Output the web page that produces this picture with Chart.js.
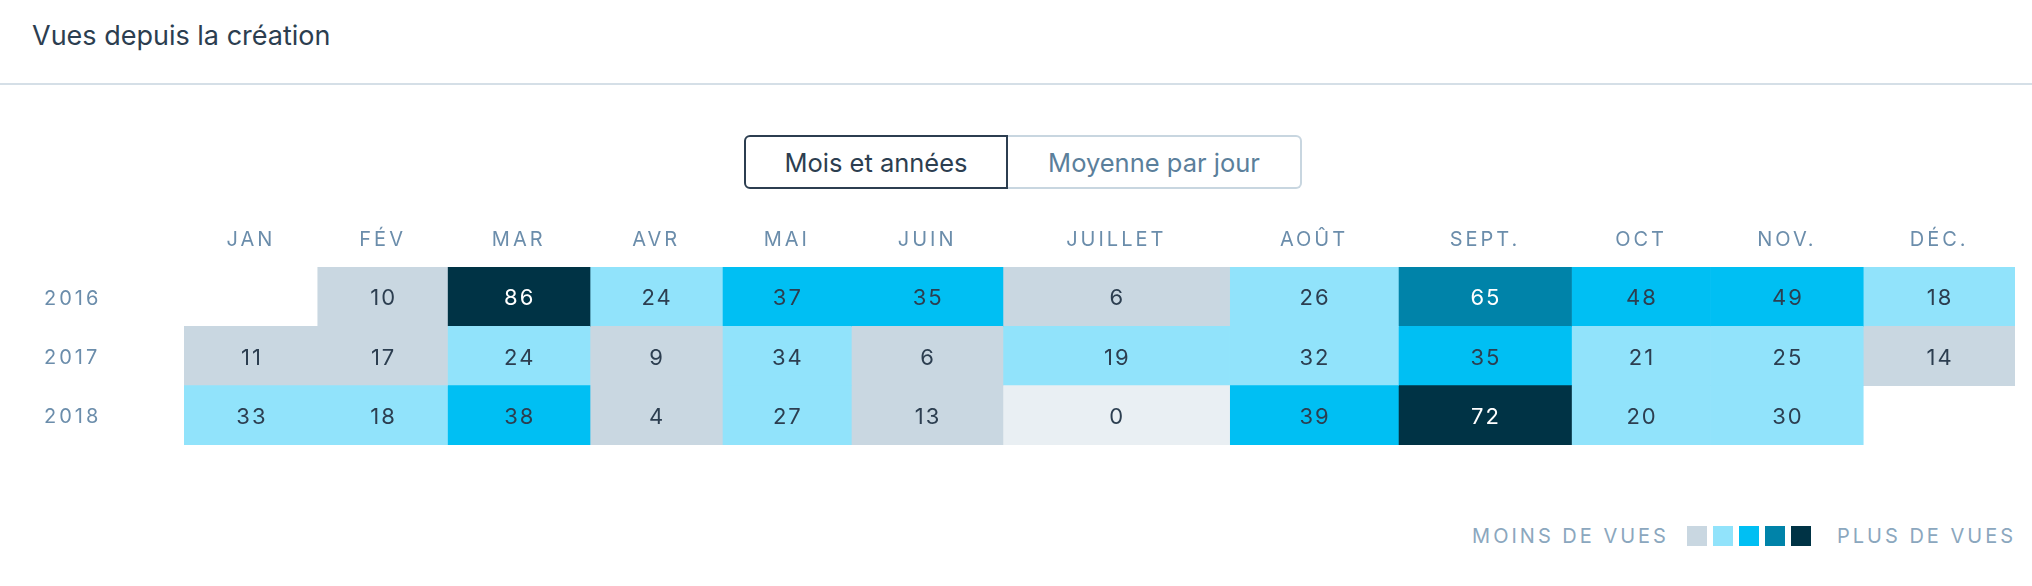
<!DOCTYPE html>
<html lang="fr">
<head>
<meta charset="utf-8">
<title>Vues depuis la création</title>
<script src="https://cdn.jsdelivr.net/npm/chart.js@4"></script>
<style>
    html, body { margin: 0; padding: 0; background: #fff; }
    body { width: 2032px; height: 586px; position: relative; overflow: hidden; font-family: Inter, "Noto Sans", sans-serif; }
    .title { position: absolute; left: 32px; top: 20px; font-size: 27px; line-height: 32px; color: #2c3e50; }
    .rule { position: absolute; left: 0; right: 0; top: 83px; height: 2px; background: #d5dfe7; }
    .toggle { position: absolute; left: 744px; top: 135px; display: flex; }
    .toggle button { font-family: inherit; font-size: 25.5px; height: 54px; background: #fff; margin: 0; padding: 0; box-sizing: border-box; }
    .toggle .on { width: 264px; border: 2px solid #2c3e50; border-radius: 6px 0 0 6px; color: #2c3e50; }
    .toggle .off { width: 294px; border: 2px solid #c8d6e0; border-left: none; border-radius: 0 6px 6px 0; color: #5b7f9b; }
    #wrap { position: absolute; left: 0; top: 200px; width: 2032px; height: 260px; }
    .legend { position: absolute; right: 19px; top: 526px; height: 20px; display: flex; align-items: center; font-size: 20px; letter-spacing: 3px; color: #8ba7be; }
    .legend .sq { width: 20px; height: 20px; margin-right: 6px; }
    .legend .sq:last-of-type { margin-right: 0; }
    .legend .lo { margin-right: 18px; }
    .legend .hi { margin-left: 20px; margin-right: -3px; }
</style>
</head>
<body>
<div class="title">Vues depuis la création</div>
<div class="rule"></div>
<div class="toggle">
    <button class="on">Mois et années</button>
    <button class="off">Moyenne par jour</button>
</div>
<div id="wrap"><canvas id="heatChart"></canvas></div>
<div class="legend" id="legend"></div>

<script>
const years = ['2016', '2017', '2018'];
const months = ['JAN', 'FÉV', 'MAR', 'AVR', 'MAI', 'JUIN', 'JUILLET', 'AOÛT', 'SEPT.', 'OCT', 'NOV.', 'DÉC.'];

// views per month, null = no data
const views2016 = [null, 10, 86, 24, 37, 35, 6, 26, 65, 48, 49, 18];
const views2017 = [11, 17, 24, 9, 34, 6, 19, 32, 35, 21, 25, 14];
const views2018 = [33, 18, 38, 4, 27, 13, 0, 39, 72, 20, 30, null];

const palette = ['#c9d7e1', '#91e3fb', '#00bff3', '#0083a9', '#003345'];
const zeroColour = '#e9eff3';
const labelColour = '#6b8dab';
const fontFamily = 'Inter, "Noto Sans", sans-serif';

const rows = [views2016, views2017, views2018];
const maxViews = Math.max(...rows.flat().filter(v => v !== null));

const binFor = v => Math.min(palette.length - 1, Math.floor(v / maxViews * palette.length));
const colourFor = v => v === null ? 'transparent' : (v === 0 ? zeroColour : palette[binFor(v)]);

// columns sized like an auto table: label width plus padding
const measure = document.createElement('canvas').getContext('2d');
measure.font = `20px ${fontFamily}`;
measure.letterSpacing = '3px';
const colWeights = months.map(m => measure.measureText(m).width + 25);
const edges = [0];
colWeights.forEach(w => edges.push(edges[edges.length - 1] + w));
const centres = months.map((m, i) => (edges[i] + edges[i + 1]) / 2);

const datasets = months.map((m, i) => ({
    label: m,
    data: rows.map(r => r[i] === null ? null : [edges[i], edges[i + 1]]),
    views: rows.map(r => r[i]),
    backgroundColor: rows.map(r => colourFor(r[i])),
    borderWidth: 0,
    borderSkipped: false,
    barPercentage: 1,
    categoryPercentage: 1,
    grouped: false
}));

const cellText = {
    id: 'cellText',
    beforeDraw(chart) {
        chart.ctx.letterSpacing = '3px';
    },
    afterDatasetsDraw(chart) {
        const ctx = chart.ctx;
        ctx.save();
        ctx.letterSpacing = '2px';
        ctx.font = `22px ${fontFamily}`;
        ctx.textAlign = 'center';
        ctx.textBaseline = 'middle';
        chart.data.datasets.forEach((ds, di) => {
            chart.getDatasetMeta(di).data.forEach((bar, i) => {
                const v = ds.views[i];
                if (v === null) return;
                ctx.fillStyle = v > 0 && binFor(v) >= 3 ? '#ffffff' : '#2c3e50';
                ctx.fillText(String(v), (bar.x + bar.base) / 2 + 1, bar.y + 2);
            });
        });
        ctx.restore();
    }
};

const ctx = document.getElementById('heatChart').getContext('2d');
const myChart = new Chart(ctx, {
    type: 'bar',
    data: { labels: years, datasets },
    options: {
        indexAxis: 'y',
        responsive: true,
        maintainAspectRatio: false,
        animation: false,
        layout: { padding: { left: 44, right: 17, top: 0, bottom: 13 } },
        plugins: { legend: { display: false }, tooltip: { enabled: false } },
        scales: {
            x: {
                type: 'linear',
                position: 'top',
                min: 0,
                max: edges[edges.length - 1],
                grid: { display: false, drawTicks: false },
                border: { display: false },
                afterBuildTicks: axis => { axis.ticks = centres.map(v => ({ value: v })); },
                afterFit: axis => { axis.height = 67; },
                ticks: {
                    autoSkip: false,
                    maxRotation: 0,
                    padding: 15,
                    color: labelColour,
                    font: { family: fontFamily, size: 20 },
                    callback: (v, i) => months[i]
                }
            },
            y: {
                position: 'left',
                grid: { display: false, drawTicks: false },
                border: { display: false },
                afterFit: axis => { axis.width = 140; },
                ticks: {
                    crossAlign: 'far',
                    labelOffset: 2,
                    color: labelColour,
                    font: { family: fontFamily, size: 20 }
                }
            }
        }
    },
    plugins: [cellText]
});

// legend: lightest to darkest
const legend = document.getElementById('legend');
legend.innerHTML = '<span class="lo">MOINS DE VUES</span>' +
    palette.map(c => `<span class="sq" style="background:${c}"></span>`).join('') +
    '<span class="hi">PLUS DE VUES</span>';
</script>
</body>
</html>
